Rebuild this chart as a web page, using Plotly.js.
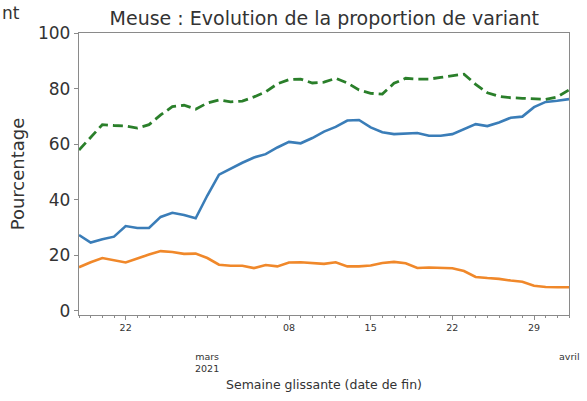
<!DOCTYPE html>
<html>
<head>
<meta charset="utf-8">
<script src="https://cdn.plot.ly/plotly-3.0.1.min.js"></script>
<style>html,body{margin:0;padding:0;background:#fff;}#chart{width:587px;height:401px;}</style>
</head>
<body>
<div id="chart"></div>
<script>
// Daily dates (rolling week end date)
const startDate = '2021-02-18';
const nDays = 43;
const dates = [];
for (let i = 0; i < nDays; i++) {
  const d = new Date(Date.UTC(2021, 1, 18 + i));
  dates.push(d.toISOString().slice(0, 10));
}

const seriesBlue = [27.3, 24.6, 25.8, 26.7, 30.5, 29.8, 29.8, 33.8, 35.3, 34.5,
  33.3, 41.5, 49.0, 51.2, 53.3, 55.2, 56.4, 58.8, 60.8, 60.3,
  62.2, 64.5, 66.2, 68.5, 68.7, 66.0, 64.3, 63.6, 63.8, 64.0,
  63.0, 63.0, 63.6, 65.3, 67.2, 66.5, 67.8, 69.5, 69.9, 73.3,
  75.2, 75.6, 76.2];

const seriesOrange = [15.7, 17.5, 19.0, 18.2, 17.4, 18.8, 20.3, 21.5, 21.2, 20.5,
  20.6, 19.0, 16.6, 16.2, 16.2, 15.4, 16.5, 16.0, 17.4, 17.5,
  17.2, 16.9, 17.5, 16.0, 16.0, 16.3, 17.2, 17.6, 17.1, 15.4,
  15.6, 15.5, 15.3, 14.3, 12.2, 11.8, 11.5, 10.9, 10.5, 9.0,
  8.6, 8.5, 8.5];

const seriesGreen = [57.9, 62.3, 67.0, 66.7, 66.5, 65.8, 67.0, 70.5, 73.5, 74.0,
  72.6, 74.8, 75.9, 75.2, 75.5, 77.0, 78.8, 81.7, 83.2, 83.4,
  82.0, 82.3, 83.7, 82.0, 79.5, 78.3, 78.0, 81.9, 83.7, 83.4,
  83.4, 84.0, 84.5, 85.2, 81.5, 78.5, 77.2, 76.7, 76.5, 76.3,
  76.1, 77.0, 79.5];

const dayTickVals = ['2021-02-22', '2021-03-08', '2021-03-15', '2021-03-22', '2021-03-29'];
const dayTickText = ['22', '08', '15', '22', '29'];
const monthTickVals = ['2021-03-01', '2021-04-01'];
const monthTickText = ['mars<br>2021', 'avril'];
const yTickVals = [0, 20, 40, 60, 80, 100];

const titleText = 'Meuse : Evolution de la proportion de variant';
const xTitle = 'Semaine glissante (date de fin)';
const yTitle = 'Pourcentage';

const font = 'DejaVu Sans, sans-serif';
const axisColor = '#8a8a8a';
const textColor = '#333333';

const traces = [
  {x: dates, y: seriesBlue, type: 'scatter', mode: 'lines',
   line: {color: '#3a7db8', width: 2.6}, showlegend: false},
  {x: dates, y: seriesOrange, type: 'scatter', mode: 'lines',
   line: {color: '#f0882a', width: 2.6}, showlegend: false},
  {x: dates, y: seriesGreen, type: 'scatter', mode: 'lines',
   line: {color: '#2a7f2a', width: 2.8, dash: '10px,5px'}, showlegend: false}
];

const annotations = monthTickVals.map((v, i) => ({
  x: v, xref: 'x', y: 0, yref: 'paper', yanchor: 'top', xanchor: 'center',
  yshift: -34, text: monthTickText[i], showarrow: false, align: 'center',
  font: {family: font, size: 9.5, color: textColor}
}));
annotations.push({
  x: -0.161, xref: 'paper', y: 1.07, yref: 'paper', xanchor: 'left', yanchor: 'middle',
  text: 'nt', showarrow: false, font: {family: font, size: 17, color: textColor}
});

const layout = {
  width: 587, height: 401,
  margin: {l: 79, r: 18, t: 33, b: 86, pad: 0},
  paper_bgcolor: '#ffffff', plot_bgcolor: '#ffffff',
  title: {text: titleText, x: 0.5525, xref: 'container', xanchor: 'center',
          y: 0.955, yref: 'container', yanchor: 'middle',
          font: {family: font, size: 19, color: textColor}},
  xaxis: {
    type: 'date', range: [dates[0], dates[dates.length - 1]],
    tickvals: dayTickVals, ticktext: dayTickText,
    ticks: 'outside', ticklen: 3.5, tickwidth: 1, tickcolor: axisColor,
    minor: {dtick: 86400000, ticks: 'outside', ticklen: 2, tickcolor: axisColor, showgrid: false},
    showgrid: false, zeroline: false, showline: true, linecolor: axisColor, linewidth: 1.2, mirror: true,
    tickfont: {family: font, size: 9.5, color: textColor},
    title: {text: xTitle, standoff: 48, font: {family: font, size: 12.5, color: textColor}}
  },
  yaxis: {
    range: [-1.5, 100], tickvals: yTickVals,
    ticks: 'outside', ticklen: 4, tickwidth: 1, tickcolor: axisColor,
    showgrid: false, zeroline: false, showline: true, linecolor: axisColor, linewidth: 1.2, mirror: true,
    tickfont: {family: font, size: 17, color: textColor},
    title: {text: yTitle, standoff: 8, font: {family: font, size: 18, color: textColor}}
  },
  annotations: annotations
};

Plotly.newPlot('chart', traces, layout, {displayModeBar: false, staticPlot: true});
</script>
</body>
</html>
